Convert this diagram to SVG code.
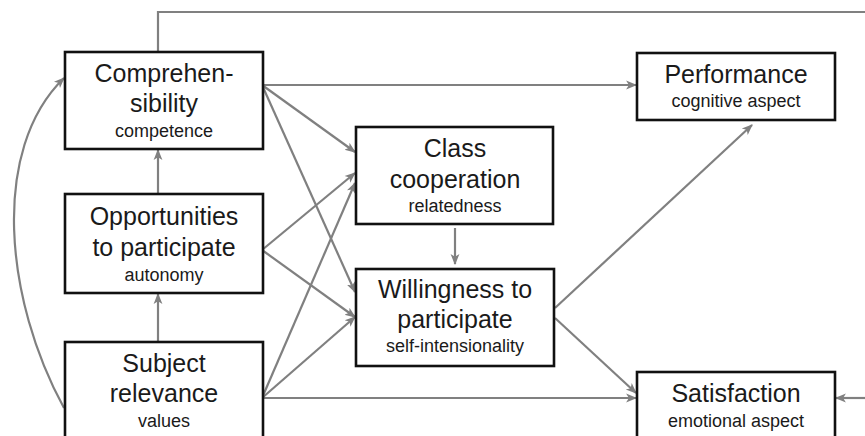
<svg xmlns="http://www.w3.org/2000/svg" width="865" height="436" viewBox="0 0 865 436">
<style>
.box{fill:#fff;stroke:#111;stroke-width:2.6}
.big{font-family:"Liberation Sans",Arial,sans-serif;font-size:25px;fill:#1a1a1a;text-anchor:middle}
.sm{font-family:"Liberation Sans",Arial,sans-serif;font-size:18px;fill:#1a1a1a;text-anchor:middle}
.c{fill:none;stroke:#808080;stroke-width:2.2}
.a{marker-end:url(#ah)}
</style>
<defs>
<marker id="ah" viewBox="0 0 10 10" refX="9" refY="5" markerWidth="5" markerHeight="5" orient="auto" markerUnits="strokeWidth">
<path d="M0,1 L10,5 L0,9 L2.5,5 z" fill="#808080"/>
</marker>
</defs>
<rect width="865" height="436" fill="#fff"/>
<g id="connectors">
<path class="c" d="M158,52 V12 H865"/>
<path class="c a" d="M64,408 C5,300 -10,150 64,78"/>
<path class="c a" d="M158,194 V150"/>
<path class="c a" d="M158,342 V294"/>
<path class="c a" d="M262,85 H636"/>
<path class="c a" d="M262,85 L355,152"/>
<path class="c a" d="M262,85 L355,292"/>
<path class="c a" d="M262,250 L355,173"/>
<path class="c a" d="M262,250 L355,317"/>
<path class="c a" d="M262,398 L355,183"/>
<path class="c a" d="M262,398 L355,317"/>
<path class="c a" d="M262,398 H636"/>
<path class="c a" d="M455,228 V264"/>
<path class="c a" d="M555,308 L752,125"/>
<path class="c a" d="M555,318 L636,393"/>
<path class="c a" d="M865,398 H836"/>
</g>
<g id="comprehensibility">
<rect class="box" x="65" y="52" width="198" height="97"/>
<text class="big" x="164" y="82">Comprehen-</text>
<text class="big" x="164" y="112">sibility</text>
<text class="sm" x="164" y="137">competence</text>
</g>
<g id="opportunities">
<rect class="box" x="65" y="194" width="198" height="99"/>
<text class="big" x="164" y="225">Opportunities</text>
<text class="big" x="164" y="256">to participate</text>
<text class="sm" x="164" y="281">autonomy</text>
</g>
<g id="subject-relevance">
<rect class="box" x="65" y="342" width="198" height="110"/>
<text class="big" x="164" y="372">Subject</text>
<text class="big" x="164" y="402">relevance</text>
<text class="sm" x="164" y="427">values</text>
</g>
<g id="class-cooperation">
<rect class="box" x="356" y="127" width="197" height="97"/>
<text class="big" x="455" y="157">Class</text>
<text class="big" x="455" y="188">cooperation</text>
<text class="sm" x="455" y="212">relatedness</text>
</g>
<g id="willingness">
<rect class="box" x="356" y="269" width="198" height="97"/>
<text class="big" x="455" y="298">Willingness to</text>
<text class="big" x="455" y="328">participate</text>
<text class="sm" x="455" y="352">self-intensionality</text>
</g>
<g id="performance">
<rect class="box" x="637" y="53" width="198" height="67"/>
<text class="big" x="736" y="83">Performance</text>
<text class="sm" x="736" y="107">cognitive aspect</text>
</g>
<g id="satisfaction">
<rect class="box" x="637" y="372" width="198" height="80"/>
<text class="big" x="736" y="402">Satisfaction</text>
<text class="sm" x="736" y="427">emotional aspect</text>
</g>
</svg>
